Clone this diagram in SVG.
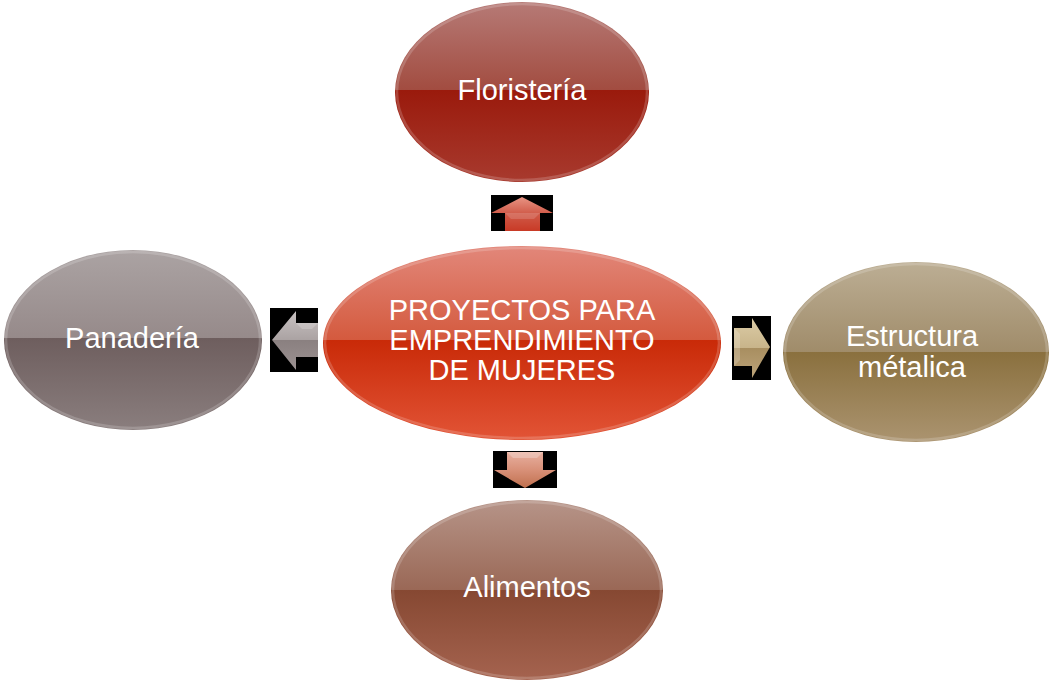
<svg xmlns="http://www.w3.org/2000/svg" width="1050" height="683" viewBox="0 0 1050 683">
<style>
  .lbl { font-family: "Liberation Sans", Arial, sans-serif; font-size: 29px; fill: #ffffff; text-anchor: middle; }
  .rim { fill: none; stroke: #ffffff; stroke-opacity: 0.18; stroke-width: 2.5; }
  .box { fill: #000000; }
</style>
<defs>
  <linearGradient id="gTop" x1="0" y1="0" x2="0" y2="1">
    <stop offset="0" stop-color="#b67a76"/>
    <stop offset="0.49" stop-color="#a24c40"/>
    <stop offset="0.49" stop-color="#9a1a0c"/>
    <stop offset="1" stop-color="#a83a2e"/>
  </linearGradient>
  <linearGradient id="gCenter" x1="0" y1="0" x2="0" y2="1">
    <stop offset="0" stop-color="#e2877a"/>
    <stop offset="0.485" stop-color="#d45a3e"/>
    <stop offset="0.485" stop-color="#c92a08"/>
    <stop offset="1" stop-color="#e25436"/>
  </linearGradient>
  <linearGradient id="gLeft" x1="0" y1="0" x2="0" y2="1">
    <stop offset="0" stop-color="#aba3a3"/>
    <stop offset="0.49" stop-color="#968a8a"/>
    <stop offset="0.49" stop-color="#6e5e5e"/>
    <stop offset="1" stop-color="#8a7e7e"/>
  </linearGradient>
  <linearGradient id="gRight" x1="0" y1="0" x2="0" y2="1">
    <stop offset="0" stop-color="#bcae94"/>
    <stop offset="0.5" stop-color="#a08c6a"/>
    <stop offset="0.5" stop-color="#8a703e"/>
    <stop offset="1" stop-color="#ab9470"/>
  </linearGradient>
  <linearGradient id="gBottom" x1="0" y1="0" x2="0" y2="1">
    <stop offset="0" stop-color="#b69488"/>
    <stop offset="0.5" stop-color="#9a6856"/>
    <stop offset="0.5" stop-color="#864832"/>
    <stop offset="1" stop-color="#a5634f"/>
  </linearGradient>
  <linearGradient id="aUp" x1="0" y1="0" x2="0" y2="1">
    <stop offset="0" stop-color="#e89484"/>
    <stop offset="0.5" stop-color="#d05a48"/>
    <stop offset="1" stop-color="#c83a26"/>
  </linearGradient>
  <linearGradient id="aLeft" x1="0" y1="0" x2="0" y2="1">
    <stop offset="0" stop-color="#c8c2c2"/>
    <stop offset="0.5" stop-color="#aaa2a2"/>
    <stop offset="0.5" stop-color="#8a8080"/>
    <stop offset="1" stop-color="#9c9292"/>
  </linearGradient>
  <linearGradient id="aRight" x1="0" y1="0" x2="0" y2="1">
    <stop offset="0" stop-color="#dccca6"/>
    <stop offset="0.5" stop-color="#c8b48a"/>
    <stop offset="0.5" stop-color="#a88e60"/>
    <stop offset="1" stop-color="#bca47a"/>
  </linearGradient>
  <linearGradient id="aDown" x1="0" y1="0" x2="0" y2="1">
    <stop offset="0" stop-color="#e8b0a0"/>
    <stop offset="0.5" stop-color="#d89078"/>
    <stop offset="1" stop-color="#c0704e"/>
  </linearGradient>
</defs>

<g id="connectors">
  <g id="arrow-up">
    <rect class="box" x="491" y="195" width="62" height="36"/>
    <polygon points="491,213 522,197 553,213 540,213 540,231 505,231 505,213" fill="url(#aUp)"/>
    <polygon points="505,213 540,213 534,219 511,219" fill="#ffffff" fill-opacity="0.15"/>
  </g>
  <g id="arrow-left">
    <rect class="box" x="270" y="308" width="48" height="64"/>
    <polygon points="272,340 296,311 296,323 318,323 318,357 296,357 296,370" fill="url(#aLeft)"/>
    <polygon points="296,323 318,323 312,329 302,329" fill="#ffffff" fill-opacity="0.2"/>
  </g>
  <g id="arrow-right">
    <rect class="box" x="732" y="316" width="39" height="64"/>
    <polygon points="734,328 752,328 752,318 770,347 752,378 752,366 734,366" fill="url(#aRight)"/>
    <polygon points="734,328 740,334 740,360 734,366" fill="#ffffff" fill-opacity="0.2"/>
  </g>
  <g id="arrow-down">
    <rect class="box" x="493" y="451" width="64" height="37"/>
    <polygon points="507,452 543,452 543,470 556,470 525,488 494,470 507,470" fill="url(#aDown)"/>
    <polygon points="507,452 543,452 537,458 513,458" fill="#ffffff" fill-opacity="0.25"/>
  </g>
</g>

<g id="node-center">
  <ellipse cx="522" cy="343" rx="199" ry="97" fill="url(#gCenter)"/>
  <ellipse class="rim" cx="522" cy="343" rx="197" ry="95"/>
  <text class="lbl" x="522" y="320">PROYECTOS PARA</text>
  <text class="lbl" x="522" y="350">EMPRENDIMIENTO</text>
  <text class="lbl" x="522" y="380">DE MUJERES</text>
</g>

<g id="node-floristeria">
  <ellipse cx="522" cy="92" rx="127" ry="90" fill="url(#gTop)"/>
  <ellipse class="rim" cx="522" cy="92" rx="125" ry="88"/>
  <text class="lbl" x="522" y="100">Floristería</text>
</g>

<g id="node-panaderia">
  <ellipse cx="133" cy="340" rx="129" ry="90" fill="url(#gLeft)"/>
  <ellipse class="rim" cx="133" cy="340" rx="127" ry="88"/>
  <text class="lbl" x="132" y="348">Panadería</text>
</g>

<g id="node-estructura">
  <ellipse cx="916" cy="352" rx="133" ry="90" fill="url(#gRight)"/>
  <ellipse class="rim" cx="916" cy="352" rx="131" ry="88"/>
  <text class="lbl" x="912" y="346">Estructura</text>
  <text class="lbl" x="912" y="377">métalica</text>
</g>

<g id="node-alimentos">
  <ellipse cx="527" cy="590" rx="136" ry="90" fill="url(#gBottom)"/>
  <ellipse class="rim" cx="527" cy="590" rx="134" ry="88"/>
  <text class="lbl" x="527" y="597">Alimentos</text>
</g>
</svg>
